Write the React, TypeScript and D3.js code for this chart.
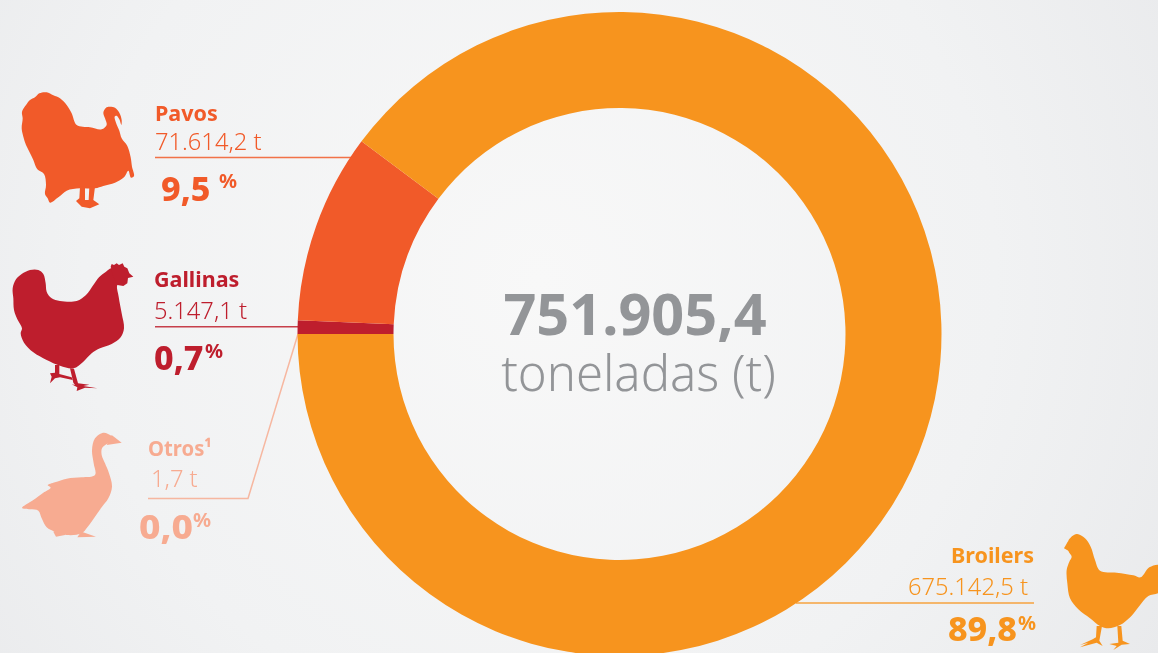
import * as d3 from "d3";

const categories = ["Otros", "Gallinas", "Pavos", "Broilers"];
const tons = [1.7, 5147.1, 71614.2, 675142.5];
const tonLabels = ["1,7 t", "5.147,1 t", "71.614,2 t", "675.142,5 t"];
const percentLabels = ["0,0", "0,7", "9,5", "89,8"];
const colors = ["#F7AB91", "#BE1E2D", "#F15A29", "#F7941E"];
const totalLabel = "751.905,4";
const unitLabel = "toneladas (t)";

const width = 1158;
const height = 653;
const cx = 619.5;
const cy = 334;
const outerR = 322;
const innerR = 226;

const FONT = "'Noto Sans', sans-serif";

type P = [number, number];

// silhouettes traced at 3x from the reference, [x, y] in zoomed pixels
// bodies get a smooth curve, legs and beaks stay straight
const turkeyBody: P[] = [[328,110],[345,113],[358,128],[365,150],[364,165],[358,148],[350,137],[344,140],[348,158],[358,182],[365,205],[382,228],[392,262],[396,290],[402,318],[393,323],[385,302],[372,322],[345,338],[310,348],[285,355],[240,355],[200,362],[175,382],[150,398],[143,385],[135,372],[138,345],[132,312],[112,298],[100,270],[88,245],[78,225],[70,200],[65,175],[68,145],[66,125],[78,105],[90,90],[105,82],[118,70],[140,67],[160,76],[180,85],[200,105],[215,130],[230,165],[270,172],[305,178],[320,165],[315,145],[310,128],[318,113]];
const turkeyLegs: P[][] = [[[240,350],[238,385],[228,393],[245,410],[270,415],[298,403],[280,390],[285,350],[268,350],[266,390],[255,390],[255,350]]];

const henBody: P[] = [[335,55],[352,70],[365,100],[352,105],[356,140],[365,190],[372,235],[362,262],[335,282],[300,295],[275,310],[250,335],[220,355],[180,347],[140,330],[100,307],[72,278],[62,250],[66,235],[52,208],[42,180],[40,145],[38,115],[48,88],[65,72],[90,60],[115,60],[130,72],[137,100],[140,125],[155,145],[180,153],[230,153],[258,135],[280,105],[297,82],[318,65]];
const henParts: P[][] = [
  [[332,50],[335,42],[342,45],[350,40],[357,45],[368,40],[373,50],[382,55],[388,70],[400,80],[384,84],[382,100],[370,108],[352,105],[340,80]],
  [[210,355],[222,356],[234,400],[268,404],[250,408],[292,415],[255,413],[230,423],[232,412],[215,403],[225,405],[220,398]],
  [[165,345],[178,345],[178,372],[215,382],[218,390],[180,382],[165,385],[150,400],[155,380],[150,370],[165,368]],
];

const gooseBody: P[] = [[310,38],[335,48],[345,62],[320,72],[306,85],[305,105],[315,130],[327,160],[336,200],[325,235],[305,262],[285,290],[262,322],[245,340],[200,345],[165,335],[140,322],[125,295],[115,272],[90,268],[66,264],[100,240],[130,218],[152,203],[143,196],[165,187],[200,176],[245,172],[285,165],[281,130],[276,90],[285,55]];
const gooseParts: P[][] = [
  [[335,45],[365,68],[320,75]],
  [[170,330],[195,330],[195,345],[168,350],[160,335]],
  [[245,335],[288,350],[232,352],[240,340]],
];

const broilerBody: P[] = [[505,62],[530,42],[555,55],[572,80],[585,120],[600,152],[650,158],[700,166],[722,172],[748,142],[780,136],[780,215],[745,228],[718,258],[692,290],[660,315],[625,325],[600,318],[570,295],[535,268],[510,235],[502,190],[500,150],[508,125],[515,110],[505,92]];
const broilerParts: P[][] = [
  [[505,62],[492,85],[510,95]],
  [[652,318],[664,318],[668,362],[690,372],[665,374],[640,390],[650,378],[628,372],[655,368]],
  [[590,318],[606,318],[598,362],[608,378],[590,368],[540,382],[565,368],[540,375],[578,358],[588,352]],
];

const bodies = [gooseBody, henBody, turkeyBody, broilerBody];
const parts = [gooseParts, henParts, turkeyLegs, broilerParts];
const shapeOffsets: P[] = [[0, 420], [0, 250], [0, 70], [900, 520]];

type Layout = {
  anchor: "start" | "end";
  name: P;
  nameLength?: number;
  tons: P;
  pct: P;
  pctLength?: number;
  sign: P;
  line: P[];
};

const layout: Layout[] = [
  { anchor: "start", name: [148, 456], nameLength: 64, tons: [151, 487], pct: [139, 539], pctLength: 54, sign: [193, 527], line: [[148, 498.5], [248, 498.5], [298, 334]] },
  { anchor: "start", name: [154, 287], tons: [154, 319], pct: [154, 370], sign: [205, 358], line: [[155, 326.8], [298, 326.8]] },
  { anchor: "start", name: [155, 121], tons: [155, 150], pct: [161, 201], sign: [219, 188], line: [[155, 157.5], [357, 157.5]] },
  { anchor: "end", name: [1034, 563], tons: [1028, 595], pct: [1017, 641], sign: [1018, 630], line: [[796, 603], [1034, 603]] },
];

const pie = d3.pie<number>().sort(null).startAngle(-Math.PI / 2).endAngle(Math.PI * 1.5);
const arc = d3.arc<d3.PieArcDatum<number>>().innerRadius(innerR).outerRadius(outerR);
const smooth = d3.line().curve(d3.curveCatmullRomClosed.alpha(0.5));
const straight = d3.line().curve(d3.curveLinearClosed);
const leader = d3.line();

export default function App() {
  const arcs = pie(tons);
  return (
    <svg width={width} height={height} viewBox={`0 0 ${width} ${height}`}
      style={{ position: "fixed", left: 0, top: 0, display: "block", fontFamily: FONT }}>
      <defs>
        <radialGradient id="bg" gradientUnits="userSpaceOnUse" cx={540} cy={280} r={760}>
          <stop offset="0" stopColor="#F8F8F8" />
          <stop offset="0.6" stopColor="#F1F2F3" />
          <stop offset="1" stopColor="#E8E9EB" />
        </radialGradient>
      </defs>
      <rect width={width} height={height} fill="url(#bg)" />

      {layout.map((l, i) => (
        <path key={categories[i]} d={leader(l.line) ?? ""} fill="none" stroke={colors[i]} strokeWidth={1.5} strokeOpacity={0.85} />
      ))}

      <g transform={`translate(${cx},${cy})`}>
        {arcs.map((a, i) => (
          <path key={categories[i]} d={arc(a) ?? ""} fill={colors[i]} />
        ))}
      </g>

      <text x={635} y={335} textAnchor="middle" fontSize={57.6} fontWeight={700} fill="#939598">{totalLabel}</text>
      <text x={638.5} y={391} textAnchor="middle" fontSize={49} fontWeight={300} fill="#939598">{unitLabel}</text>

      {bodies.map((b, i) => (
        <g key={categories[i]} fill={colors[i]}
          transform={`translate(${shapeOffsets[i][0]},${shapeOffsets[i][1]}) scale(${1 / 3})`}>
          <path d={smooth(b) ?? ""} />
          {parts[i].map((p, j) => <path key={j} d={straight(p) ?? ""} />)}
        </g>
      ))}

      {layout.map((l, i) => (
        <g key={categories[i]} fill={colors[i]}>
          <text x={l.name[0]} y={l.name[1]} textAnchor={l.anchor} fontSize={21.5} fontWeight={700}
            textLength={l.nameLength} lengthAdjust="spacingAndGlyphs">
            {categories[i]}{i === 0 ? "¹" : ""}
          </text>
          <text x={l.tons[0]} y={l.tons[1]} textAnchor={l.anchor} fontSize={23.7} fontWeight={300}>{tonLabels[i]}</text>
          <text x={l.pct[0]} y={l.pct[1]} textAnchor={l.anchor} fontSize={34} fontWeight={800}
            textLength={l.pctLength} lengthAdjust="spacingAndGlyphs">{percentLabels[i]}</text>
          <text x={l.sign[0]} y={l.sign[1]} fontSize={20} fontWeight={700}>%</text>
        </g>
      ))}
    </svg>
  );
}
